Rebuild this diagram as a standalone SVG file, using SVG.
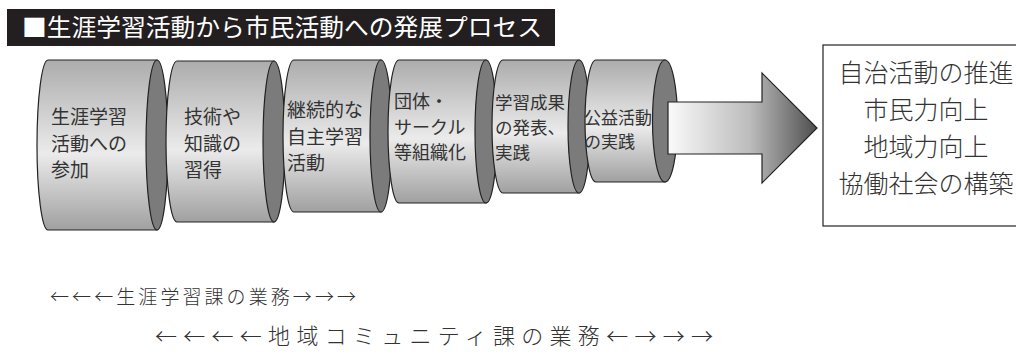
<svg xmlns="http://www.w3.org/2000/svg" width="1016" height="357" viewBox="0 0 1016 357">
<defs>
<linearGradient id="body" x1="0" y1="0" x2="0" y2="1">
<stop offset="0" stop-color="#acacac"/>
<stop offset="0.55" stop-color="#ebebeb"/>
<stop offset="1" stop-color="#a0a0a0"/>
</linearGradient>
<linearGradient id="arr" gradientUnits="userSpaceOnUse" x1="668" y1="0" x2="817" y2="0">
<stop offset="0" stop-color="#fafafa"/>
<stop offset="0.55" stop-color="#bcbcbc"/>
<stop offset="1" stop-color="#4e4e4e"/>
</linearGradient>
</defs>
<style>
.b{fill:url(#body);stroke:#222;stroke-width:1.2}
.c{fill:#7b7b7b;stroke:#222;stroke-width:1.2}
.t{font-family:"Noto Sans CJK JP","Noto Sans",sans-serif;fill:#333}
.m{font-family:"Noto Sans CJK JP","Noto Sans",sans-serif;fill:#333;font-weight:300}
</style>
<g id="title">
<rect x="7" y="9" width="548" height="37" fill="#231f20"/>
<text x="22" y="36" font-size="24" textLength="520" lengthAdjust="spacingAndGlyphs" font-family="Noto Sans CJK JP, sans-serif" fill="#fff">■生涯学習活動から市民活動への発展プロセス</text>
</g>
<g id="cyl1">
<path class="b" d="M48,60 H157 V230 H48 A11,85 0 0 1 48,60 Z"/>
<ellipse class="c" cx="157" cy="145" rx="11" ry="85"/>
<text class="t" font-size="19"><tspan x="51" y="124">生涯学習</tspan><tspan x="51" y="151">活動への</tspan><tspan x="51" y="177">参加</tspan></text>
</g>
<g id="cyl2">
<path class="b" d="M177,61 H274 V222 H177 A11,80.5 0 0 1 177,61 Z"/>
<ellipse class="c" cx="274" cy="141.5" rx="11" ry="80.5"/>
<text class="t" font-size="19"><tspan x="184" y="124">技術や</tspan><tspan x="184" y="151">知識の</tspan><tspan x="184" y="177">習得</tspan></text>
</g>
<g id="cyl3">
<path class="b" d="M294,60 H381 V212 H294 A11,76 0 0 1 294,60 Z"/>
<ellipse class="c" cx="381" cy="136" rx="11" ry="76"/>
<text class="t" font-size="19"><tspan x="287" y="117">継続的な</tspan><tspan x="287" y="144">自主学習</tspan><tspan x="287" y="170">活動</tspan></text>
</g>
<g id="cyl4">
<path class="b" d="M399,60 H486 V203 H399 A11,71.5 0 0 1 399,60 Z"/>
<ellipse class="c" cx="486" cy="131.5" rx="11" ry="71.5"/>
<text class="t" font-size="18"><tspan x="394" y="108">団体・</tspan><tspan x="394" y="134">サークル</tspan><tspan x="394" y="159">等組織化</tspan></text>
</g>
<g id="cyl5">
<path class="b" d="M503,60 H579 V193 H503 A11,66.5 0 0 1 503,60 Z"/>
<ellipse class="c" cx="579" cy="126.5" rx="11" ry="66.5"/>
<text class="t" font-size="17.5"><tspan x="495" y="109">学習成果</tspan><tspan x="495" y="134">の発表、</tspan><tspan x="495" y="159">実践</tspan></text>
</g>
<g id="cyl6">
<path class="b" d="M596,60 H665 V182 H596 A11,61 0 0 1 596,60 Z"/>
<ellipse class="c" cx="665" cy="121" rx="12.5" ry="61"/>
<text class="t" font-size="17"><tspan x="584" y="124">公益活動</tspan><tspan x="584" y="148">の実践</tspan></text>
</g>
<g id="connectors">
<polygon points="668,102 762,102 762,73 817,128 762,183 762,154 668,154" fill="url(#arr)" stroke="#222" stroke-width="1.2" stroke-linejoin="miter"/>
</g>
<g id="result">
<rect x="823" y="45" width="200" height="181" fill="#fff" stroke="#222" stroke-width="1.2"/>
<text class="m" font-size="25" text-anchor="middle"><tspan x="926" y="82">自治活動の推進</tspan><tspan x="926" y="119">市民力向上</tspan><tspan x="926" y="156">地域力向上</tspan><tspan x="926" y="193">協働社会の構築</tspan></text>
</g>
<g id="footer">
<text class="m" font-size="19" x="50" y="304" textLength="306" lengthAdjust="spacing">←←←生涯学習課の業務→→→</text>
<text class="m" font-size="22" x="155" y="344" textLength="558" lengthAdjust="spacing">←←←←地域コミュニティ課の業務←→→→</text>
</g>
</svg>
